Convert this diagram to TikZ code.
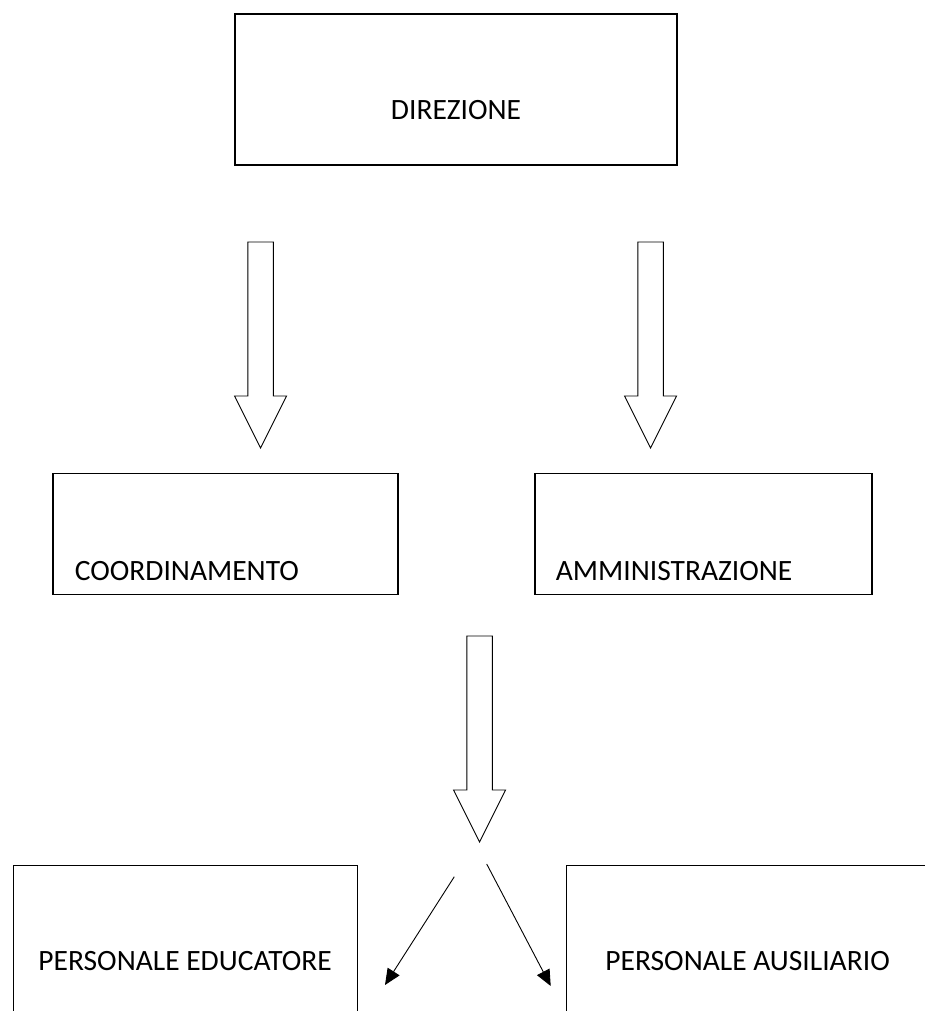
\documentclass[tikz,border=0pt]{standalone}
\usepackage{fontspec}
\setmainfont{Carlito}
\usetikzlibrary{positioning,arrows.meta}
\tikzset{every picture/.style={line width=0.8pt}}

\begin{document}
\begin{tikzpicture}[x=1pt, y=-1pt,
    ufficio/.style={draw, line width=1.1pt, inner sep=0pt},
    scritta/.style={font=\fontsize{29.5}{35}\selectfont, inner sep=0pt},
    freccia/.style={draw, line width=0.9pt, fill=white},
    ramo/.style={-{Triangle[length=16pt,width=14pt]}, line width=0.9pt}]
  \useasboundingbox (0,0) rectangle (925,1011);
  \clip (0,0) rectangle (925,1011);
  % uffici
  \node[ufficio, minimum width=442pt, minimum height=151pt] (direzione) at (456,89.5) {};
  \node[scritta, anchor=base] (direzionetxt) at ([yshift=-30.5pt]direzione.center) {DIREZIONE};
  \node[ufficio, minimum width=345pt, minimum height=121pt] (coord) at (225.5,534) {};
  \node[scritta, anchor=base west] (coordtxt) at ([xshift=22pt,yshift=15pt]coord.south west) {COORDINAMENTO};
  \node[ufficio, minimum width=337pt, minimum height=121pt] (ammin) at (703.5,534) {};
  \node[scritta, anchor=base west] (ammintxt) at ([xshift=21pt,yshift=15pt]ammin.south west) {AMMINISTRAZIONE};
  \node[ufficio, minimum width=344pt, minimum height=200pt, anchor=north west] (educ) at (12.5,865) {};
  \node[scritta, anchor=base west] (eductxt) at ([xshift=25.5pt,yshift=-105pt]educ.north west) {PERSONALE EDUCATORE};
  \node[ufficio, minimum width=400pt, minimum height=200pt, anchor=north west] (ausil) at (566,865) {};
  \node[scritta, anchor=base west] (ausiltxt) at ([xshift=39pt,yshift=-105pt]ausil.north west) {PERSONALE AUSILIARIO};
  % frecce larghe
  \foreach \x/\y in {260.6/242, 650.6/242, 479.6/636}{
    \draw[freccia] (\x-12.8,\y) -- (\x+12.8,\y) -- (\x+12.8,\y+154) -- (\x+26,\y+154)
      -- (\x,\y+206) -- (\x-26,\y+154) -- (\x-12.8,\y+154) -- cycle;
  }
  % frecce sottili
  \coordinate (ramosx) at (454.3,876.7);
  \coordinate (puntasx) at (385,985);
  \coordinate (ramodx) at (486.7,864);
  \coordinate (puntadx) at (550.7,986);
  \draw[ramo] (ramosx) -- (puntasx);
  \draw[ramo] (ramodx) -- (puntadx);
\end{tikzpicture}
\end{document}
